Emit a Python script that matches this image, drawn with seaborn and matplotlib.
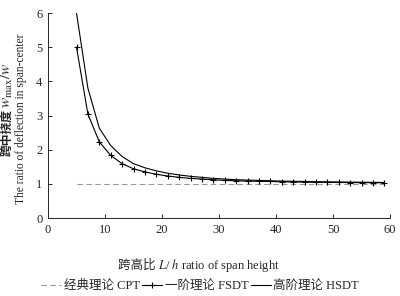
import matplotlib
matplotlib.use("Agg")
import matplotlib.pyplot as plt
import seaborn as sns
import pandas as pd

ratio = [5, 7, 9, 11, 13, 15, 17, 19, 21, 23, 25, 27, 29, 31, 33, 35, 37, 39,
         41, 43, 45, 47, 49, 51, 53, 55, 57, 59]
cpt = [1.0] * len(ratio)
fsdt = [5.0, 3.04, 2.23, 1.83, 1.59, 1.44, 1.35, 1.28, 1.23, 1.19, 1.16, 1.14,
        1.12, 1.10, 1.09, 1.08, 1.075, 1.07, 1.06, 1.055, 1.05, 1.047, 1.043,
        1.04, 1.038, 1.036, 1.033, 1.03]
hsdt = [6.0, 3.8, 2.63, 2.12, 1.80, 1.59, 1.47, 1.38, 1.31, 1.26, 1.22, 1.19,
        1.16, 1.14, 1.12, 1.11, 1.10, 1.09, 1.08, 1.075, 1.07, 1.063, 1.058,
        1.054, 1.05, 1.047, 1.044, 1.04]
labels = ["经典理论 CPT", "一阶理论 FSDT", "高阶理论 HSDT"]
xticks = [0, 10, 20, 30, 40, 50, 60]
yticks = [0, 1, 2, 3, 4, 5, 6]

sns.set_style("ticks")
FAM = ['Liberation Serif', 'Noto Sans CJK SC']
plt.rcParams['font.family'] = FAM
plt.rcParams['mathtext.fontset'] = 'stix'

df = pd.DataFrame({"x": ratio, "cpt": cpt, "fsdt": fsdt, "hsdt": hsdt})

fig = plt.figure(figsize=(4.0, 2.96), dpi=100)
ax = fig.add_axes([0.12, 0.2635, 0.855, 0.6925])

sns.lineplot(data=df, x="x", y="cpt", ax=ax, color="#999999", lw=0.8,
             linestyle=(0, (5, 3)), label=labels[0])
sns.lineplot(data=df, x="x", y="fsdt", ax=ax, color="black", lw=0.8,
             marker="+", markersize=5, markeredgewidth=0.8,
             markeredgecolor="black", label=labels[1])
sns.lineplot(data=df, x="x", y="hsdt", ax=ax, color="black", lw=0.8,
             label=labels[2])

ax.set_xlim(0, 60)
ax.set_ylim(0, 6)
ax.set_xticks(xticks)
ax.set_yticks(yticks)
ax.tick_params(direction="in", length=3, width=0.7, labelsize=9, pad=4)
for s in ["top", "right"]:
    ax.spines[s].set_visible(False)
for s in ["left", "bottom"]:
    ax.spines[s].set_linewidth(0.7)
ax.set_xlabel("")
ax.set_ylabel("")

fs = 9
# y label, line 2 (English)
fig.text(21 / 400, 1 - 119 / 296, "The ratio of deflection in span-center",
         rotation=90, ha="center", va="center", fontsize=8.3)
# y label, line 1 (Chinese + math), composed from pieces
t1 = fig.text(7 / 400, 0.5, "跨中挠度", rotation=90, ha="center", va="bottom",
              fontsize=8.5, fontweight="bold", family=['Noto Sans CJK SC'])
t2 = fig.text(7 / 400, 0.5, r"$w_{\mathrm{max}}/w$", rotation=90, ha="center",
              va="bottom", fontsize=11)
# x label pieces
x1 = fig.text(0.3, 1 - 265 / 296, "跨高比 ", ha="left", va="center",
              fontsize=fs, family=['Noto Sans CJK SC'])
x2 = fig.text(0.3, 1 - 265 / 296, r"$L$/ $h$ ratio of span height",
              ha="left", va="center", fontsize=fs)

fig.canvas.draw()
r = fig.canvas.get_renderer()
H = fig.bbox.height
W = fig.bbox.width
h1 = t1.get_window_extent(r).height
h2 = t2.get_window_extent(r).height
ystart = (H - 110) - (h1 + h2) / 2
t1.set_y(ystart / H)
t2.set_y((ystart + h1 + 1) / H)
w1 = x1.get_window_extent(r).width
w2 = x2.get_window_extent(r).width
xstart = 199 - (w1 + w2) / 2
x1.set_x(xstart / W)
x2.set_x((xstart + w1) / W)

handles, labs = ax.get_legend_handles_labels()
ax.get_legend().remove()
fig.legend(handles, labs, loc="center", bbox_to_anchor=(0.5, 1 - 286 / 296),
           ncol=3, frameon=False, fontsize=fs, handlelength=1.6,
           handletextpad=0.2, columnspacing=0.2, borderaxespad=0)

fig.savefig("out.png", dpi=100)
